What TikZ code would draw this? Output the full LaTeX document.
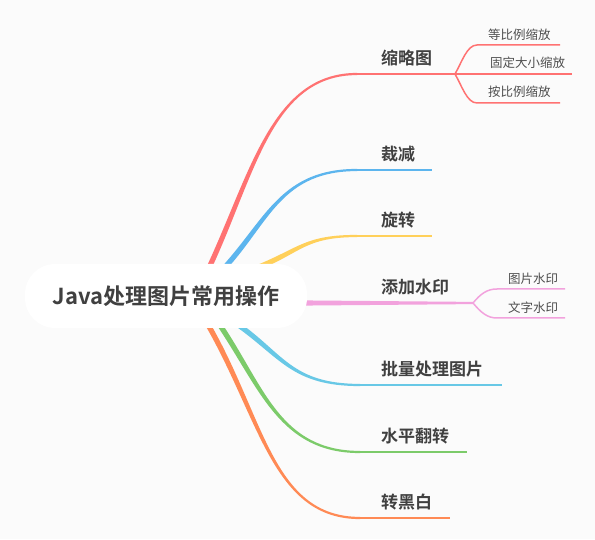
\documentclass[tikz,border=0pt]{standalone}
\usepackage{fontspec}
\setmainfont{Noto Sans CJK SC}[BoldFont={Noto Sans CJK SC Bold}]
\definecolor{bgcol}{HTML}{FBFBFB}
\definecolor{txt}{HTML}{404040}
\definecolor{subtxt}{HTML}{4F4F4F}
\definecolor{cred}{HTML}{FF7272}
\definecolor{cblue}{HTML}{5CB5EE}
\definecolor{cyellow}{HTML}{FFD05A}
\definecolor{cpink}{HTML}{F2A2DD}
\definecolor{ccyan}{HTML}{68C8E6}
\definecolor{cgreen}{HTML}{7CCB6A}
\definecolor{corange}{HTML}{FF8A55}
\pgfdeclarelayer{bg}
\pgfsetlayers{bg,main}

\begin{document}
\begin{tikzpicture}[x=1pt,y=1pt,
  topic/.style={fill=white, rounded corners=30pt, minimum width=282pt, minimum height=64pt, inner sep=0pt, text=txt, font=\bfseries\fontsize{22}{26}\selectfont},
  lbl/.style={anchor=base west, inner sep=0pt, text=txt, font=\bfseries\fontsize{17}{20}\selectfont},
  sublbl/.style={anchor=base west, inner sep=0pt, text=subtxt, font=\fontsize{12.5}{15}\selectfont},
  uline/.style={line width=2.2pt},
  subline/.style={line width=1.5pt}]
\useasboundingbox (0,0) rectangle (595,539);

\node[topic] (root) at (166,243) {Java处理图片常用操作};

% first level
\node[lbl] (thumb) at (381,474.5) {缩略图};
\node[lbl] (crop) at (381,378.5) {裁减};
\node[lbl] (rot) at (381,312.5) {旋转};
\node[lbl] (mark) at (381,245.5) {添加水印};
\node[lbl] (batch) at (381,163.5) {批量处理图片};
\node[lbl] (flip) at (381,96.5) {水平翻转};
\node[lbl] (gray) at (381,30.5) {转黑白};

% second level
\node[sublbl] (eq) at (488,499) {等比例缩放};
\node[sublbl] (fix) at (490,471) {固定大小缩放};
\node[sublbl] (ratio) at (488,442) {按比例缩放};
\node[sublbl] (img) at (508,255.5) {图片水印};
\node[sublbl] (word) at (508,226) {文字水印};

\coordinate (s1) at ([xshift=43pt,yshift=-4pt]root.north);
\coordinate (s2) at ([xshift=59.3pt,yshift=-3pt]root.north);
\coordinate (s3) at ([xshift=91.7pt,yshift=-3.7pt]root.north);
\coordinate (s4) at ([xshift=-6pt,yshift=-7pt]root.east);
\coordinate (s5) at ([xshift=70.4pt,yshift=4.6pt]root.south);
\coordinate (s6) at ([xshift=53.2pt,yshift=4.1pt]root.south);
\coordinate (s7) at ([xshift=41.5pt,yshift=4.3pt]root.south);

\coordinate (thumb-in) at (357,465);
\coordinate (thumb-fork) at (455,465);
\coordinate (crop-in) at (357,369);
\coordinate (crop-out) at (432,369);
\coordinate (rot-in) at (357,303);
\coordinate (rot-out) at (432,303);
\coordinate (mark-fork) at (473,236);
\coordinate (batch-in) at (360,154);
\coordinate (batch-out) at (502,154);
\coordinate (flip-in) at (360,87);
\coordinate (flip-out) at (467,87);
\coordinate (gray-in) at (360,21);
\coordinate (gray-out) at (450,21);

\coordinate (eq-in) at (477,494);
\coordinate (eq-out) at (560,494);
\coordinate (fix-out) at (572,465);
\coordinate (ratio-in) at (477,436);
\coordinate (ratio-out) at (560,436);
\coordinate (img-in) at (497,250);
\coordinate (img-out) at (565,250);
\coordinate (word-in) at (497,221);
\coordinate (word-out) at (565,221);

\begin{pgfonlayer}{bg}
\fill[bgcol] (0,0) rectangle (595,539);

% 缩略图
\fill[cred] ([shift={(155:2.6)}]s1) .. controls +(65:104) and +(-85,0) .. ([yshift=1.1pt]thumb-in)
  -- ([yshift=-1.1pt]thumb-in) .. controls +(-85,0) and +(65:104) .. ([shift={(-25:2.6)}]s1) -- cycle;
\draw[cred, uline] (thumb-in) -- (thumb-fork);
\draw[cred, subline] (thumb-fork) .. controls +(60:14) and +(-10,0) .. (eq-in) -- (eq-out);
\draw[cred, subline] (thumb-fork) -- (fix-out);
\draw[cred, subline] (thumb-fork) .. controls +(-60:14) and +(-10,0) .. (ratio-in) -- (ratio-out);

% 裁减
\fill[cblue] ([shift={(138:2.6)}]s2) .. controls +(48:64) and +(-75,0) .. ([yshift=1.1pt]crop-in)
  -- ([yshift=-1.1pt]crop-in) .. controls +(-75,0) and +(48:64) .. ([shift={(-42:2.6)}]s2) -- cycle;
\draw[cblue, uline] (crop-in) -- (crop-out);

% 旋转
\fill[cyellow] ([shift={(112:2.6)}]s3) .. controls +(22:46) and +(-52,0) .. ([yshift=1.1pt]rot-in)
  -- ([yshift=-1.1pt]rot-in) .. controls +(-52,0) and +(22:46) .. ([shift={(-68:2.6)}]s3) -- cycle;
\draw[cyellow, uline] (rot-in) -- (rot-out);

% 添加水印
\fill[cpink] ([yshift=2.6pt]s4) -- ([yshift=1.1pt]mark-fork) -- ([yshift=-1.1pt]mark-fork) -- ([yshift=-2.6pt]s4) -- cycle;
\draw[cpink, subline] (mark-fork) .. controls +(50:12) and +(-10,0) .. (img-in) -- (img-out);
\draw[cpink, subline] (mark-fork) .. controls +(-50:12) and +(-10,0) .. (word-in) -- (word-out);

% 批量处理图片
\fill[ccyan] ([shift={(55:2.6)}]s5) .. controls +(-35:56) and +(-68,0) .. ([yshift=1.1pt]batch-in)
  -- ([yshift=-1.1pt]batch-in) .. controls +(-68,0) and +(-35:56) .. ([shift={(-125:2.6)}]s5) -- cycle;
\draw[ccyan, uline] (batch-in) -- (batch-out);

% 水平翻转
\fill[cgreen] ([shift={(34:2.6)}]s6) .. controls +(-56:77) and +(-80,0) .. ([yshift=1.1pt]flip-in)
  -- ([yshift=-1.1pt]flip-in) .. controls +(-80,0) and +(-56:77) .. ([shift={(-146:2.6)}]s6) -- cycle;
\draw[cgreen, uline] (flip-in) -- (flip-out);

% 转黑白
\fill[corange] ([shift={(30:2.6)}]s7) .. controls +(-60:110) and +(-87,0) .. ([yshift=1.1pt]gray-in)
  -- ([yshift=-1.1pt]gray-in) .. controls +(-87,0) and +(-60:110) .. ([shift={(-150:2.6)}]s7) -- cycle;
\draw[corange, uline] (gray-in) -- (gray-out);
\end{pgfonlayer}
\end{tikzpicture}
\end{document}
